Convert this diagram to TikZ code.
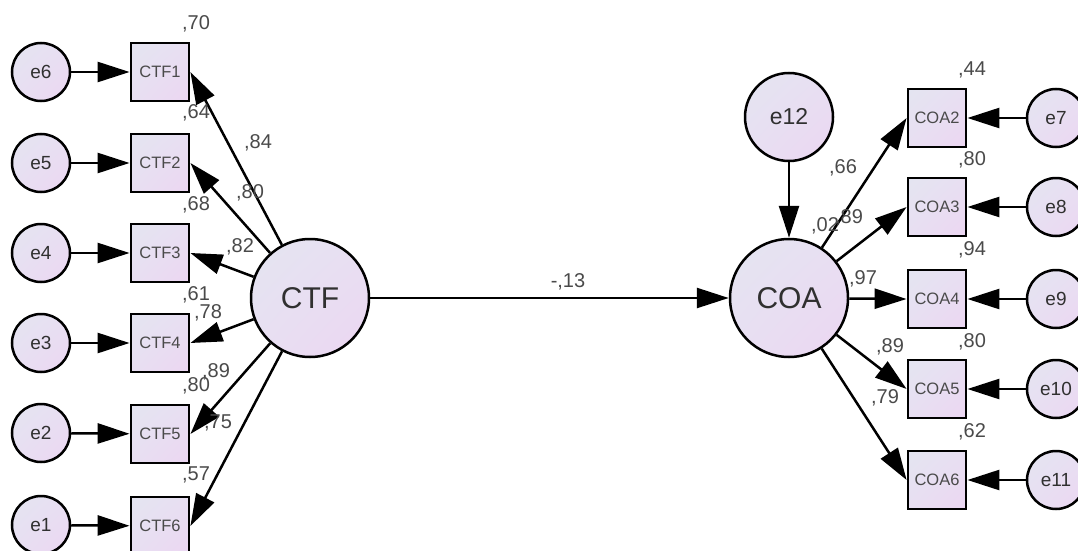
\documentclass[tikz,border=0pt]{standalone}
\usepackage{fontspec}
\setmainfont{Liberation Sans}
\usetikzlibrary{arrows.meta,shadings}
\definecolor{cA}{HTML}{E4E5F1}
\definecolor{cM}{HTML}{E8DFF2}
\definecolor{cB}{HTML}{ECD6F2}
\definecolor{lbl}{HTML}{4A4A4A}
\definecolor{txt}{HTML}{303030}
\tikzset{
  shadefill/.style={shade, upper left=cA, upper right=cM, lower left=cM, lower right=cB},
  errc/.style={circle, draw=black, line width=2.5pt, minimum size=58pt, inner sep=0pt, shadefill, text=txt, font=\fontsize{19}{21}\selectfont},
  latc/.style={circle, draw=black, line width=2.5pt, minimum size=118pt, inner sep=0pt, shadefill, text=txt, font=\fontsize{30}{32}\selectfont},
  bigerr/.style={circle, draw=black, line width=2.5pt, minimum size=88pt, inner sep=0pt, shadefill, text=txt, font=\fontsize{23}{25}\selectfont},
  obs/.style={rectangle, draw=black, line width=2.8pt, minimum size=58pt, inner sep=0pt, shadefill, text=lbl, font=\fontsize{16.5}{18}\selectfont},
  arr/.style={line width=2.5pt, -{Triangle[length=32pt,width=20pt]}},
  coef/.style={text=lbl, font=\fontsize{20}{22}\selectfont, inner sep=0pt}
}
\begin{document}
\begin{tikzpicture}[x=1pt,y=-1pt]
\clip (0,0) rectangle (1078,551);
\fill[white] (0,0) rectangle (1078,551);
% left side
\node[errc] (e6) at (41,72) {e6};
\node[errc] (e5) at (41,163) {e5};
\node[errc] (e4) at (41,253) {e4};
\node[errc] (e3) at (41,343) {e3};
\node[errc] (e2) at (41,433) {e2};
\node[errc] (e1) at (41,525) {e1};
\node[obs] (c1) at (160,72) {CTF1};
\node[obs] (c2) at (160,163) {CTF2};
\node[obs] (c3) at (160,253) {CTF3};
\node[obs] (c4) at (160,343) {CTF4};
\node[obs] (c5) at (160,434) {CTF5};
\node[obs] (c6) at (160,526) {CTF6};
\node[latc] (ctf) at (310,298) {CTF};
% right side
\node[latc] (coa) at (789,298) {COA};
\node[bigerr] (e12) at (789,117) {e12};
\node[obs] (a2) at (937,118) {COA2};
\node[obs] (a3) at (937,207) {COA3};
\node[obs] (a4) at (937,299) {COA4};
\node[obs] (a5) at (937,389) {COA5};
\node[obs] (a6) at (937,480) {COA6};
\node[errc] (e7) at (1056,118) {e7};
\node[errc] (e8) at (1056,207) {e8};
\node[errc] (e9) at (1056,299) {e9};
\node[errc] (e10) at (1056,389) {e10};
\node[errc] (e11) at (1056,480) {e11};
% arrows left
\foreach \e/\c in {e6/c1,e5/c2,e4/c3,e3/c4,e2/c5,e1/c6} \draw[arr] (\e) -- (\c);
\foreach \c in {c1,c2,c3,c4,c5,c6} \draw[arr] (ctf) -- (\c.east);
% structural
\draw[arr] (ctf) -- (coa);
\draw[arr] (e12) -- (coa);
% arrows right
\foreach \e/\c in {e7/a2,e8/a3,e9/a4,e10/a5,e11/a6} \draw[arr] (\e) -- (\c);
\foreach \c in {a2,a3,a4,a5,a6} \draw[arr] (coa) -- (\c.west);
% coefficients left
\node[coef] (l70) at (196,24) {,70};
\node[coef] (l64) at (196,113) {,64};
\node[coef] (l84) at (258,143) {,84};
\node[coef] (l80a) at (250,193) {,80};
\node[coef] (l68) at (196,205) {,68};
\node[coef] (l82) at (240,247) {,82};
\node[coef] (l61) at (196,295) {,61};
\node[coef] (l78) at (208,313) {,78};
\node[coef] (l89a) at (216,372) {,89};
\node[coef] (l80b) at (196,386) {,80};
\node[coef] (l75) at (218,423) {,75};
\node[coef] (l57) at (196,475) {,57};
% coefficient structural
\node[coef] (l13) at (568,282) {-,13};
% coefficients right
\node[coef] (l44) at (972,70) {,44};
\node[coef] (l66) at (843,168) {,66};
\node[coef] (l89b) at (849,218) {,89};
\node[coef] (l02) at (825,226) {,02};
\node[coef] (l80c) at (972,160) {,80};
\node[coef] (l94) at (972,250) {,94};
\node[coef] (l97) at (863,279) {,97};
\node[coef] (l80d) at (972,342) {,80};
\node[coef] (l89c) at (890,347) {,89};
\node[coef] (l79) at (885,398) {,79};
\node[coef] (l62) at (972,432) {,62};
\end{tikzpicture}
\end{document}
